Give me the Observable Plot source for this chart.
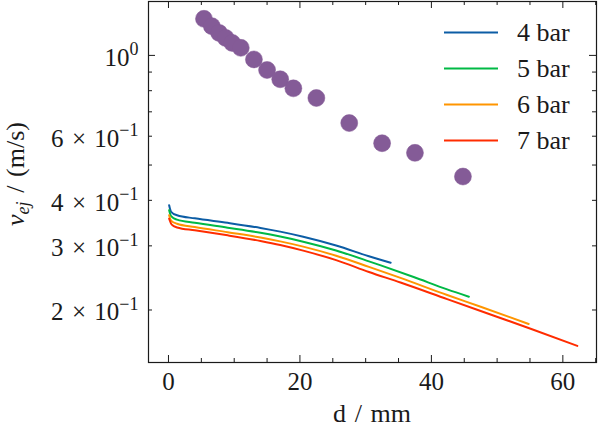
<!DOCTYPE html>
<html><head><meta charset="utf-8">
<script src="https://cdn.jsdelivr.net/npm/d3@7"></script>
<script src="https://cdn.jsdelivr.net/npm/@observablehq/plot@0.6"></script>
<style>
html,body{margin:0;padding:0;background:#fff;}
#chart{width:600px;height:430px;}
#chart svg, #chart svg text, #chart svg tspan{font-family:"Liberation Serif","Times New Roman","DejaVu Serif",serif !important;}
</style></head><body><div id="chart"></div>
<script>
// ---- data ----
const xMajorTicks = [0, 20, 40, 60];
const xMinorTicks = [5, 10, 15, 25, 30, 35, 45, 50, 55, 65];
const xTickLabels = ["0", "20", "40", "60"];
const yMajorTicks = [1];
const yMinorTicks = [0.2, 0.3, 0.4, 0.5, 0.6, 0.7, 0.8, 0.9];
const yLabelTicks = [0.2, 0.3, 0.4, 0.6, 1];
const yTickLabels = ["2\u2004×\u200410^−1", "3\u2004×\u200410^−1", "4\u2004×\u200410^−1", "6\u2004×\u200410^−1", "10^0"];

const seriesNames = ["4 bar", "5 bar", "6 bar", "7 bar"];
const seriesColors = ["#0C5DA5", "#00B945", "#FF9500", "#FF2C00"];

const d4 = [0.1, 0.4, 1.3, 4, 9, 14, 17, 20.5, 25.5, 30.5, 33.8];
const v4 = [0.388, 0.372, 0.364, 0.357, 0.347, 0.336, 0.3282, 0.3178, 0.3007, 0.2809, 0.2696];

const d5 = [0.1, 0.4, 1.3, 4, 9, 14, 17, 20.5, 25.5, 30.5, 32.3, 37.3, 42.4, 45.7];
const v5 = [0.376, 0.362, 0.354, 0.347, 0.3365, 0.3258, 0.3181, 0.308, 0.2913, 0.272, 0.2651, 0.2463, 0.2279, 0.2175];

const d6 = [0.1, 0.4, 1.3, 4, 9, 14, 17, 20.5, 25.5, 30.5, 35.3, 42.4, 47.5, 54.8];
const v6 = [0.364, 0.352, 0.345, 0.338, 0.327, 0.3162, 0.3086, 0.2985, 0.2818, 0.2627, 0.245, 0.2198, 0.2042, 0.1831];

const d7 = [0.1, 0.5, 1.3, 4, 9, 14, 17, 20.5, 25.5, 30.5, 35.3, 42.4, 47.5, 55.1, 62.2];
const v7 = [0.356, 0.343, 0.337, 0.331, 0.3206, 0.3094, 0.3017, 0.2911, 0.2741, 0.2543, 0.2379, 0.2142, 0.1987, 0.1777, 0.1594];

const dotD = [5.4, 6.6, 7.7, 8.7, 9.7, 11, 13, 15, 17, 19, 22.5, 27.5, 32.5, 37.5, 44.8];
const dotV = [1.26, 1.203, 1.153, 1.117, 1.082, 1.049, 0.975, 0.912, 0.860, 0.812, 0.764, 0.652, 0.574, 0.540, 0.465];
const dotColor = "#845B97";

// ---- build tables ----
const seriesD = [d4, d5, d6, d7];
const seriesV = [v4, v5, v6, v7];
const lines = [];
seriesNames.forEach((s, i) => seriesD[i].forEach((d, j) => lines.push({s, d, v: seriesV[i][j]})));
const dots = dotD.map((d, i) => ({d, v: dotV[i]}));
const xLab = xMajorTicks.map((d, i) => ({d, t: xTickLabels[i]}));
const yLab = yLabelTicks.map((v, i) => ({v, t: yTickLabels[i]}));

const W = 600, H = 430;
const mL = 148, mR = 4, mT = 1, mB = 68;
const FW = W - mL - mR, FH = H - mT - mB;
const ink = "#1a1a1a";
const FONT = "'Liberation Serif', 'Times New Roman', 'DejaVu Serif', serif";
const majorLen = 7, minorLen = 4;

const plot = Plot.plot({
  width: W, height: H,
  marginLeft: mL, marginRight: mR, marginTop: mT, marginBottom: mB,
  style: {fontFamily: FONT, fontSize: "25px", color: ink, background: "white"},
  x: {domain: [-3.04, 65.12], label: null, axis: null},
  y: {type: "log", domain: [0.1435, 1.406], label: null, axis: null},
  color: {domain: seriesNames, range: seriesColors},
  marks: [
    Plot.line(lines, {x: "d", y: "v", z: "s", stroke: "s", strokeWidth: 2, curve: "monotone-x"}),
    Plot.dot(dots, {x: "d", y: "v", r: 8.5, fill: dotColor, stroke: dotColor, strokeWidth: 0.5}),
    // ticks (inward, all four sides)
    Plot.ruleX(xMajorTicks, {x: d => d, insetTop: FH - majorLen, stroke: ink, strokeWidth: 1}),
    Plot.ruleX(xMajorTicks, {x: d => d, insetBottom: FH - majorLen, stroke: ink, strokeWidth: 1}),
    Plot.ruleX(xMinorTicks, {x: d => d, insetTop: FH - minorLen, stroke: ink, strokeWidth: 1}),
    Plot.ruleX(xMinorTicks, {x: d => d, insetBottom: FH - minorLen, stroke: ink, strokeWidth: 1}),
    Plot.ruleY(yMajorTicks, {y: d => d, insetRight: FW - majorLen, stroke: ink, strokeWidth: 1}),
    Plot.ruleY(yMajorTicks, {y: d => d, insetLeft: FW - majorLen, stroke: ink, strokeWidth: 1}),
    Plot.ruleY(yMinorTicks, {y: d => d, insetRight: FW - minorLen, stroke: ink, strokeWidth: 1}),
    Plot.ruleY(yMinorTicks, {y: d => d, insetLeft: FW - minorLen, stroke: ink, strokeWidth: 1}),
    // tick labels
    Plot.text(xLab, {x: "d", text: "t", frameAnchor: "bottom", lineAnchor: "top", dy: 10, fontSize: 25, fill: ink}),
    Plot.text(yLab, {y: "v", text: "t", frameAnchor: "left", textAnchor: "end", dx: -10, dy: 2.5, fontSize: 25, fill: ink}),
    Plot.frame({stroke: ink, strokeWidth: 1.2})
  ]
});
document.getElementById("chart").appendChild(plot);

const svg = d3.select(plot).attr("font-family", FONT).style("font-family", FONT);
// superscripts in y tick labels
svg.selectAll("text").each(function() {
  const t = d3.select(this);
  const s = t.text();
  if (s.indexOf("^") < 0) return;
  const parts = s.split("^");
  t.text(parts[0]);
  t.append("tspan").attr("dy", "-0.6em").attr("font-size", "18px").text(parts[1]);
});

// axis labels
svg.append("text").attr("x", mL + FW / 2).attr("y", 422).attr("text-anchor", "middle")
  .attr("font-size", 26).attr("fill", ink).text("d\u2004/\u2004mm");
const yl = svg.append("text").attr("transform", "translate(24,174) rotate(-90)")
  .attr("text-anchor", "middle").attr("font-size", 26).attr("fill", ink);
yl.append("tspan").attr("font-style", "italic").text("v");
yl.append("tspan").attr("font-style", "italic").attr("font-size", "18px").attr("dy", "5px").text("ej");
yl.append("tspan").attr("dy", "-5px").text("\u2004/\u2004(m/s)");

// legend
const lg = svg.append("g");
seriesNames.forEach((s, i) => {
  const y = 32.5 + i * 36;
  lg.append("line").attr("x1", 444).attr("x2", 498).attr("y1", y).attr("y2", y)
    .attr("stroke", seriesColors[i]).attr("stroke-width", 2.2);
  lg.append("text").attr("x", 517).attr("y", y + 8.5).attr("text-anchor", "start")
    .attr("font-size", 26).attr("fill", ink).text(s);
});
</script></body></html>
